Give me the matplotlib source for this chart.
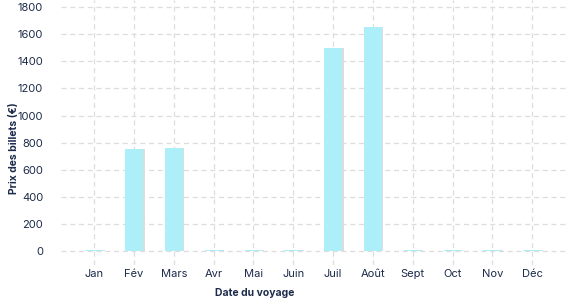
import matplotlib.pyplot as plt
import numpy as np

plt.rcParams['font.family'] = ['Inter', 'DejaVu Sans']

months = ['Jan', 'Fév', 'Mars', 'Avr', 'Mai', 'Juin', 'Juil', 'Août',
          'Sept', 'Oct', 'Nov', 'Déc']
prices = [8, 755, 763, 8, 8, 8, 1500, 1650, 8, 8, 8, 8]
yticks = [0, 200, 400, 600, 800, 1000, 1200, 1400, 1600, 1800]

text_col = '#1c2b4a'
bar_col = '#adeff8'
shadow_col = '#dcdcdc'

fig = plt.figure(figsize=(5.77, 3.0), dpi=100)
ax = fig.add_axes([0.106, 0.117, 0.877, 0.883])

x = np.arange(len(months))
# faint shadow on the right of each bar
ax.bar(x + 0.04, prices, width=0.45, color=shadow_col, zorder=2)
ax.bar(x, prices, width=0.45, color=bar_col, zorder=3)

ax.set_xlim(-0.83, 11.88)
ax.set_ylim(-100, 1852)
ax.set_xticks(x)
ax.set_xticklabels(months)
ax.set_yticks(yticks)

ax.grid(True, color='#dddddd', linestyle=(0, (4, 3)), linewidth=0.9, zorder=0)
for s in ax.spines.values():
    s.set_visible(False)
ax.tick_params(length=0, labelsize=8, colors=text_col)
ax.tick_params(axis='x', pad=3)
ax.tick_params(axis='y', pad=13)

xl = ax.set_xlabel('Date du voyage', fontsize=7.5, fontweight='bold', color=text_col)
xl.set_verticalalignment('center')
ax.xaxis.set_label_coords(0.383, -0.106)
yl = ax.set_ylabel('Prix des billets (€)', fontsize=7.5, fontweight='bold', color=text_col)
yl.set_verticalalignment('center')
ax.yaxis.set_label_coords(-0.093, 0.44)

fig.savefig('out.png', dpi=100)
